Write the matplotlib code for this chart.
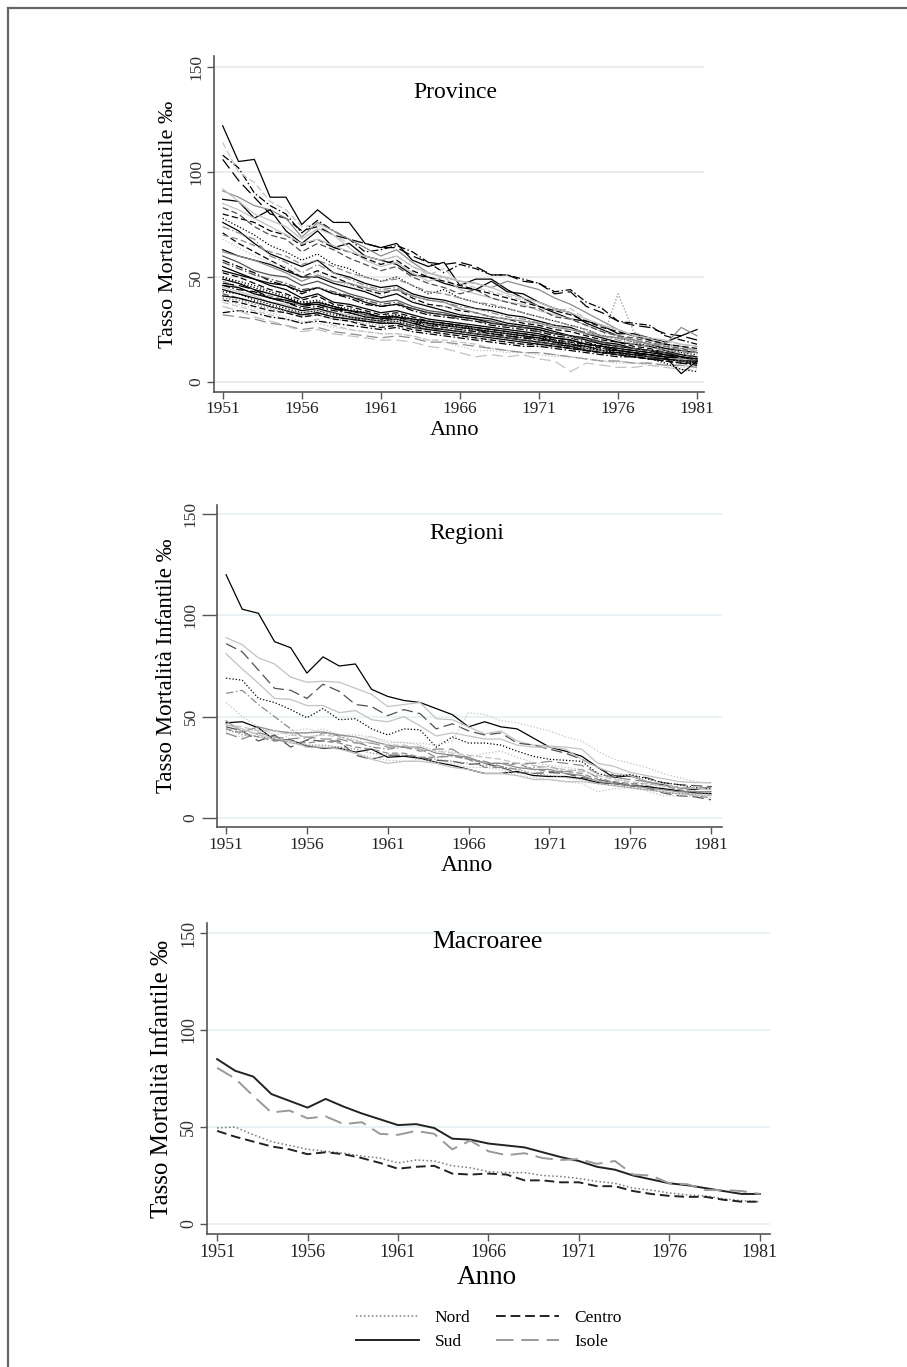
import matplotlib.pyplot as plt
from matplotlib.lines import Line2D

plt.rcParams['font.family'] = ['Liberation Serif', 'DejaVu Serif']

anni = list(range(1951, 1982))

# province (tasso per mille)
province = [
    [122,105,106,88,88,75,82,76,76,66,64,66,58,55,57,46,49,49,44,40,36,33,30,29,27,23,23,21,19,22,25],
    [108,102,90,84,80,71,77,72,68,62,63,65,62,57,52,56,54,51,51,49,47,43,44,38,35,29,28,27,22,20,18],
    [114,100,95,86,82,74,75,70,66,60,58,60,55,51,54,47,45,43,41,39,36,34,35,30,27,25,22,20,19,18,17],
    [106,96,88,80,78,72,74,70,68,66,64,64,60,57,56,57,55,51,51,48,47,42,43,36,33,29,27,26,23,22,20],
    [91,88,84,82,78,69,76,72,68,64,60,63,57,52,50,48,47,45,48,46,44,40,37,33,29,25,22,20,18,17,15],
    [87,86,78,82,72,66,72,64,66,60,58,56,51,50,47,45,44,48,43,42,38,35,33,28,25,22,20,18,16,15,14],
    [92,86,80,77,74,68,73,70,64,58,55,57,52,48,50,44,42,40,38,37,34,32,30,27,24,22,20,18,17,16,15],
    [83,80,74,70,68,62,66,63,59,56,53,55,50,47,45,42,44,40,38,36,35,31,30,27,24,22,21,19,17,16,14],
    [78,74,70,65,62,58,61,56,54,50,48,50,46,42,44,40,38,36,35,33,31,29,27,25,22,21,19,17,16,14,13],
    [76,72,66,61,58,55,58,52,50,47,45,46,42,40,39,37,35,34,32,31,29,27,26,23,21,19,18,17,15,13,12],
    [74,71,68,60,57,52,56,52,49,46,44,45,41,39,38,36,35,33,31,30,28,27,25,24,22,20,18,17,15,14,14],
    [71,66,62,58,54,50,53,50,47,44,42,44,40,37,36,34,33,31,30,28,27,25,24,22,20,19,17,16,14,13,12],
    [68,64,60,57,55,50,52,48,46,44,41,42,39,36,36,33,31,30,29,27,26,24,22,20,19,18,16,15,14,12,11],
    [63,60,58,56,53,50,50,47,45,43,40,42,38,36,34,32,31,30,28,27,26,24,22,21,19,18,16,15,13,12,11],
    [60,57,53,51,50,46,48,45,42,40,38,39,36,34,33,31,30,29,27,26,25,23,22,20,18,17,16,15,14,12,11],
    [58,55,52,48,46,42,45,42,40,37,36,37,34,32,31,30,29,27,26,25,24,22,21,19,17,16,15,14,13,12,10],
    [55,52,49,46,44,40,42,38,37,35,33,34,32,30,29,28,27,26,25,24,23,21,20,18,17,16,15,14,13,11,10],
    [52,50,47,44,42,39,41,37,36,34,32,33,31,29,28,27,26,25,24,23,22,20,19,18,16,15,14,13,12,11,10],
    [50,48,46,43,41,38,39,36,35,33,31,32,30,28,27,27,25,24,23,22,21,20,19,17,16,15,14,13,12,11,9],
    [49,47,44,42,40,37,38,36,34,32,31,31,29,28,27,26,25,24,23,22,21,19,18,17,15,15,14,13,12,11,10],
    [48,45,42,41,39,36,37,35,34,32,30,31,29,27,26,25,24,23,22,21,20,19,18,16,15,14,13,12,11,10,9],
    [47,46,44,40,38,36,37,35,33,31,30,31,29,27,27,26,25,23,22,21,21,19,18,16,15,14,13,13,12,11,10],
    [46,44,43,40,38,35,36,34,33,31,30,30,28,27,26,25,24,23,22,21,20,19,17,16,15,14,13,12,11,10,9],
    [45,43,41,38,37,34,35,33,32,30,29,29,27,26,25,24,23,22,21,20,19,18,17,16,15,14,13,12,11,11,10],
    [44,42,40,38,36,34,35,33,31,30,29,30,28,26,25,24,23,22,21,20,19,18,17,15,14,14,13,12,11,10,9],
    [43,42,39,37,35,33,34,32,31,29,28,29,27,26,25,24,23,22,21,20,19,18,17,16,15,14,13,12,11,10,8],
    [42,40,38,36,34,32,33,31,30,29,28,28,27,25,25,24,23,22,21,20,19,18,16,15,14,13,12,12,11,10,9],
    [41,40,38,36,34,32,33,31,30,29,28,28,26,25,24,23,22,21,20,19,18,17,16,15,14,13,12,11,11,10,10],
    [40,39,37,35,33,31,32,30,29,28,27,27,26,24,23,22,21,20,19,18,17,17,16,15,14,13,12,11,10,10,9],
    [39,38,36,34,33,31,32,30,29,27,26,27,25,24,23,22,21,20,19,18,18,17,16,15,14,13,12,11,10,9,9],
    [38,36,34,32,30,28,30,27,25,24,23,23,22,20,20,19,18,16,15,14,14,13,12,11,10,10,9,9,8,8,7],
    [32,31,30,28,27,25,26,24,23,22,21,22,21,19,19,18,17,16,15,14,14,13,12,11,10,10,9,9,8,8,7],
    [33,34,33,31,30,28,29,28,27,26,25,26,24,23,22,21,20,19,18,17,17,16,15,14,13,12,12,11,10,9,8],
    [36,34,31,29,27,24,25,23,22,21,20,20,19,17,16,14,12,13,12,13,11,10,5,9,8,7,7,8,7,6,6],
    [40,39,38,36,34,33,34,33,31,30,29,30,29,27,27,26,25,24,23,23,22,21,21,20,20,42,24,20,18,16,15],
    [50,47,45,42,40,38,38,36,34,33,31,32,30,28,27,26,25,24,23,22,21,20,18,17,15,14,12,11,9,6,5],
    [46,45,42,40,39,37,37,35,34,33,31,31,30,29,28,27,26,25,24,23,22,21,20,18,17,15,14,13,12,4,10],
    [62,60,58,55,52,48,51,48,47,45,43,44,41,39,38,35,33,31,30,29,28,26,25,23,22,21,20,18,18,26,22],
    [80,78,76,72,70,65,68,64,62,59,56,58,53,50,48,46,44,42,40,38,36,34,32,29,26,24,22,20,18,17,16],
    [85,82,78,74,70,66,68,65,62,60,58,60,55,52,50,48,47,45,42,40,38,35,33,30,27,25,22,21,20,18,17],
    [70,68,65,62,60,56,58,55,52,50,48,49,46,43,42,40,38,37,35,33,31,29,27,25,22,21,19,18,17,15,14],
    [53,51,49,47,46,43,45,42,41,38,36,37,35,33,32,31,30,28,27,26,25,23,22,20,18,17,16,15,14,12,11],
    [57,54,51,49,47,44,45,43,41,39,37,38,35,33,32,30,29,28,27,26,24,23,22,20,19,17,16,15,14,13,12],
    [39,37,35,33,31,29,28,26,25,24,23,23,22,20,19,17,15,15,14,14,13,12,12,11,10,9,9,8,8,7,7],
]

# regioni
regioni = [
    [120,103,101,87,84,71.5,79.5,75,76,63.5,60,58,57,54,51,45,47.5,45,44,39.5,35,33,30.5,25,20,21,18,16.5,15,14,15.5],
    [89,85.5,79,76,69.5,67,67.5,67,64,61,55,56,57,49,48.5,45,41.5,43,38,36,35.5,35,34,27,25.5,22.5,21,19.5,18,17.5,17.5],
    [86,82,73,64,63,59,66,62.5,56,55,50.5,53.5,51.5,44,46.5,43,41,42,37,36,34,32,29,25,21,20.5,20,17.5,16.5,16,15.5],
    [81,73.5,66.5,59,58.5,55.5,55.5,52,53,48.5,47.5,50,45.5,40.5,42,40.5,39,39,36,35,35,34,29,25,22,21,18,17,15,14.5,14],
    [69,68,59,57,53.5,49.5,54,48.5,49,44,41,44,43.5,35,40,37,37,36,33,30.5,29,28.5,28,22,20,21.5,19.5,17.5,16.5,15,14.5],
    [61.5,63,56,50,44,38.5,42,40.5,37.5,35,34,35,34,30,30.5,29,28,25.5,24,25,25.5,23,24,20,17.5,16.5,16,14.5,13,11,10],
    [57,50,45,41,43,44,42,41,38.5,40,37,37.5,36,33,33,30,32,33,30,27.5,26,25,24,21,20,17,15.5,15,13,12,12],
    [47,47.5,44.5,38.5,38.5,35.5,34.5,34.5,32.5,34,30,30.5,29.5,27.5,26,24,22,22,23,21,20.5,20.5,19.5,17.5,17,16,15.5,14.5,13.5,12.5,12],
    [45,43,38,41,35,38.5,38,38,31,29,31,31,30,28.5,28,26.5,27,25,22.5,22,22.5,22,20,19,17.5,16,15,12.5,11,10.5,9],
    [41.5,40,43,39.5,37,36,35,35,32,30,28.5,28,29,27.5,27,25,25,24,21,20,19,18,17,13,14.5,15,13.5,11,11,11,11],
    [43,42,44,38,41,42,44,41,41,40,38,37,37,36,38,52,51,48,47,45,43,40,38,33,29,27,25,22,20,18,17],
    [48,42.5,45,43,42,42,42.5,41,40,38,36,35,35,32,31,30,27,27,25,24,24,22,21,18,17,16,15,14,13,13,13],
    [44,42,40,38,38,37,38,37,35,34,32,32,30,30,31,29,27,27,27,24,23,23,22,19,18,17,17,16,14,13,13],
    [46,44,41,39,38,35,35,34,32,29,27,28,28,27,25,24,22,22,21,19,19,18,18,17,16,15,14,13,12,11.5,11],
    [42,39,42,40,39,40,39,39,37,37,35,35,33,34,34,29,25,25,27,27,28,27,26,22,20,19,18,16,15,15,15],
    [44,41,40,39,37,36,36,35,34,32,31,31,30,29,28,27,26,25,24,22,21,20,19,17,16,15,14,13,12,12,12],
    [46,45,43,43,41,40,41,40,38,37,36,36,34,33,32,31,30,29,27,26,25,24,23,21,19,18,17,16,15,15,14],
]

# macroaree
nord = [49.5,50,46,42.5,40.5,38.5,37.5,36.5,35,34,31.5,33,32.5,30,29,27,26.5,26.5,25,24.5,23.5,22,21,18.5,17.5,16,15,14.5,13,12,11.5]
centro = [48,45,42.5,40,38.5,36,37,36,34,31.5,28.5,29.5,30,26,25.5,26,25.5,22.5,22.5,21.5,21.5,19.5,19.5,17,15.5,14.5,14,14,12.5,11.5,11.5]
sud = [85,79,76,67,63.5,60,64.5,60.5,57,54,51,51.5,49.5,44,43.5,41.5,40.5,39.5,37,34.5,32.5,29.5,28,25,23,21,20,18.5,17,15.5,15.5]
isole = [80.5,75,66,57.5,58.5,54.5,55.5,51.5,52.5,46.5,46,48,46.5,38.5,43,37.5,35.5,36.5,34,33,33.5,31,32.5,25.5,25,21,20.5,17.5,17.5,17,15.5]

# stili: colore + tratto
colori = {'k': 'black', 'd': '#505050', 'g': '#8c8c8c', 'l': '#c2c2c2'}
tratti = {'-': '-', '--': (0, (5, 2.5)), '-.': (0, (6, 2, 1.2, 2)), ':': (0, (1, 1.6)), 'L': (0, (9, 4))}

stili_prov = ['k-', 'k-.', 'l--', 'kL', 'g-', 'k-', 'l-', 'd--', 'k:', 'k-', 'g-.', 'k--',
              'l:', 'k-', 'd-', 'k-.', 'k-', 'k--', 'k:', 'k-', 'g--', 'kL', 'k-.', 'l-',
              'k-', 'k:', 'd--', 'k-', 'g:', 'k--', 'l--', 'gL', 'k-.', 'lL', 'g:', 'k:',
              'k-', 'g-', 'k--', 'l-', 'g--', 'k-', 'd-.', 'l:']
stili_reg = ['k-', 'l-', 'dL', 'l-', 'k:', 'g-.', 'l:', 'k-', 'dL', 'l:', 'l:', 'g-',
             'g--', 'l-', 'gL', 'g:', 'l--']

W, H = 907, 1367
fig = plt.figure(figsize=(W / 100, H / 100), dpi=100)


def pannello(left, right, top, bottom, xlim, ylim, grid_col, ytick_len, fs):
    ax = fig.add_axes([left / W, 1 - bottom / H, (right - left) / W, (bottom - top) / H])
    ax.set_xlim(*xlim)
    ax.set_ylim(*ylim)
    for s in ['top', 'right']:
        ax.spines[s].set_visible(False)
    for s in ['left', 'bottom']:
        ax.spines[s].set_color('#555555')
        ax.spines[s].set_linewidth(1.2)
    ax.set_xticks(range(1951, 1982, 5))
    ax.set_yticks([0, 50, 100, 150])
    ax.tick_params(axis='x', length=5, width=1, color='#555555', labelsize=fs, pad=2,
                   labelcolor='#222222')
    ax.tick_params(axis='y', length=ytick_len, width=1, color='#555555', labelsize=fs, pad=2,
                   labelcolor='#333333')
    for lab in ax.get_yticklabels():
        lab.set_rotation(90)
        lab.set_va('center')
    for v in [0, 50, 100, 150]:
        ax.axhline(v, color=grid_col, lw=1.1, zorder=0)
    return ax


def disegna(ax, y, codice, lw):
    ax.plot(anni, y, color=colori[codice[0]], linestyle=tratti[codice[1:]], lw=lw)


# pannello 1: province
ax1 = pannello(213.7, 703.5, 56.5, 391.7, (1950.43, 1981.41), (-4.6, 155), '#e6e6e6', 5, 12.5)
for serie, st in zip(province, stili_prov):
    disegna(ax1, serie, st, 0.9)
ax1.set_xlabel('Anno', fontsize=16, va='center')
ax1.xaxis.set_label_coords((455 - 213.7) / (703.5 - 213.7), -(430 - 391.7) / (391.7 - 56.5))
ax1.set_ylabel('Tasso Mortalità Infantile ‰', fontsize=16, va='center')
ax1.yaxis.set_label_coords(-(213.7 - 168.5) / (703.5 - 213.7), 0.5)
fig.text(455 / W, 1 - 92 / H, 'Province', ha='center', va='center', fontsize=17)

# pannello 2: regioni
ax2 = pannello(216.7, 722, 505, 827, (1950.42, 1981.68), (-4.4, 154.4), '#e3eff1', 11, 12.5)
for serie, st in zip(regioni, stili_reg):
    disegna(ax2, serie, st, 0.9)
ax2.set_xlabel('Anno', fontsize=17, va='center')
ax2.xaxis.set_label_coords((467 - 216.7) / (722 - 216.7), -(866 - 827) / (827 - 505))
ax2.set_ylabel('Tasso Mortalità Infantile ‰', fontsize=16.5, va='center')
ax2.yaxis.set_label_coords(-(216.7 - 166) / (722 - 216.7), 0.5)
fig.text(467 / W, 1 - 534 / H, 'Regioni', ha='center', va='center', fontsize=17)

# pannello 3: macroaree
ax3 = pannello(207, 770, 923, 1234, (1950.44, 1981.57), (-5.15, 155.2), '#e3eff1', 5, 13)
l_nord, = ax3.plot(anni, nord, color='#7a7a7a', linestyle=(0, (1, 1.6)), lw=1.1, label='Nord')
l_centro, = ax3.plot(anni, centro, color='#222222', linestyle=(0, (5, 2.5)), lw=1.4, label='Centro')
l_sud, = ax3.plot(anni, sud, color='#222222', linestyle='-', lw=1.4, label='Sud')
l_isole, = ax3.plot(anni, isole, color='#999999', linestyle=(0, (9, 4)), lw=1.4, label='Isole')
ax3.set_xlabel('Anno', fontsize=19.5, va='center')
ax3.xaxis.set_label_coords((487 - 207) / (770 - 207), -(1277 - 1234) / (1234 - 923))
ax3.set_ylabel('Tasso Mortalità Infantile ‰', fontsize=18, va='center')
ax3.yaxis.set_label_coords(-(207 - 162) / (770 - 207), 0.5)
fig.text(487 / W, 1 - 942 / H, 'Macroaree', ha='center', va='center', fontsize=18.5)

fig.legend(handles=[l_nord, l_sud, l_centro, l_isole], ncol=2, frameon=False,
           loc='center', bbox_to_anchor=(489 / W, 1 - 1330 / H), fontsize=12.5,
           handlelength=3.6, handletextpad=0.9, columnspacing=1.5, labelspacing=0.45)

# cornice
fig.add_artist(Line2D([7.5 / W, 7.5 / W], [0, 1 - 7.5 / H], transform=fig.transFigure,
                      color='#666666', lw=1.6))
fig.add_artist(Line2D([7.5 / W, 1], [1 - 7.5 / H, 1 - 7.5 / H], transform=fig.transFigure,
                      color='#666666', lw=1.6))

fig.savefig('out.png', dpi=100)
